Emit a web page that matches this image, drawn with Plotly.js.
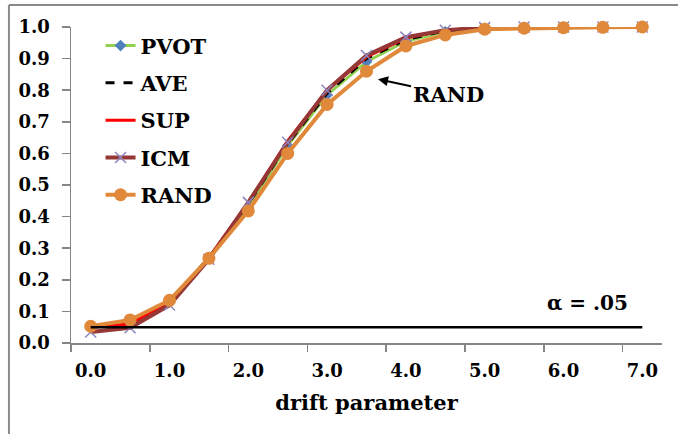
<!DOCTYPE html>
<html>
<head>
<meta charset="utf-8">
<script src="https://cdn.plot.ly/plotly-3.0.1.min.js"></script>
<style>html,body{margin:0;padding:0;background:#fff;}#chart{width:678px;height:434px;}</style>
</head>
<body>
<div id="chart"></div>
<script>
const drift = [0, 0.5, 1, 1.5, 2, 2.5, 3, 3.5, 4, 4.5, 5, 5.5, 6, 6.5, 7];
const PVOT = [0.05, 0.06, 0.13, 0.27, 0.43, 0.625, 0.785, 0.89, 0.955, 0.985, 0.996, 0.999, 1, 1, 1];
const AVE  = [0.05, 0.06, 0.13, 0.27, 0.44, 0.63, 0.79, 0.90, 0.96, 0.988, 0.997, 0.999, 1, 1, 1];
const SUP  = [0.05, 0.06, 0.13, 0.27, 0.445, 0.64, 0.80, 0.905, 0.965, 0.99, 0.998, 1, 1, 1, 1];
const ICM  = [0.035, 0.048, 0.12, 0.265, 0.445, 0.635, 0.80, 0.91, 0.968, 0.99, 0.998, 1, 1, 1, 1];
const RAND = [0.053, 0.073, 0.135, 0.268, 0.418, 0.60, 0.755, 0.86, 0.94, 0.975, 0.993, 0.996, 0.998, 0.999, 1];
const alphaX = [0, 7];
const alphaY = [0.05, 0.05];
const xTickVals = [0, 1, 2, 3, 4, 5, 6, 7];
const xTickText = ['0.0', '1.0', '2.0', '3.0', '4.0', '5.0', '6.0', '7.0'];
const xMinorTicks = [-0.25, 0.75, 1.75, 2.75, 3.75, 4.75, 5.75, 6.75];
const yTickVals = [0, 0.1, 0.2, 0.3, 0.4, 0.5, 0.6, 0.7, 0.8, 0.9, 1.0];

const FONT = 'DejaVu Serif';
const traces = [
  {x: drift, y: PVOT, name: 'PVOT', mode: 'lines+markers', legendgroup: 'a',
   line: {color: '#92D050', width: 3}, marker: {symbol: 'diamond', color: '#4F81BD', size: 9}, cliponaxis: false},
  {x: drift, y: AVE, name: 'AVE', mode: 'lines', legendgroup: 'b',
   line: {color: '#000000', width: 3, dash: 'dash'}, cliponaxis: false},
  {x: drift, y: SUP, name: 'SUP', mode: 'lines', legendgroup: 'c',
   line: {color: '#FF0000', width: 3}, cliponaxis: false},
  {x: drift, y: ICM, name: 'ICM', mode: 'lines+markers', legendgroup: 'd',
   line: {color: '#953735', width: 4}, marker: {symbol: 'x-thin', size: 11, line: {color: '#8E84C0', width: 1.5}}, cliponaxis: false},
  {x: drift, y: RAND, name: 'RAND', mode: 'lines+markers', legendgroup: 'e',
   line: {color: '#E0893A', width: 4}, marker: {symbol: 'circle', color: '#E0893A', size: 13}, cliponaxis: false},
  {x: alphaX, y: alphaY, mode: 'lines', showlegend: false, hoverinfo: 'skip',
   line: {color: '#000000', width: 2.5}}
];

const layout = {
  width: 678, height: 434,
  margin: {l: 71, r: 16, t: 27, b: 91},
  paper_bgcolor: '#ffffff', plot_bgcolor: '#ffffff',
  font: {family: FONT, color: '#000000'},
  showlegend: true,
  legend: {x: 0.05, y: 1.005, xanchor: 'left', yanchor: 'top', bgcolor: 'rgba(0,0,0,0)',
           font: {family: FONT, size: 21, weight: 'bold', color: '#000'}, tracegroupgap: 7},
  xaxis: {
    range: [-0.25, 7.25], tickmode: 'array', tickvals: xTickVals, ticktext: xTickText,
    ticks: '', showgrid: false, zeroline: false, showline: true, linecolor: '#868686', linewidth: 1.5,
    ticklabelstandoff: 11,
    tickfont: {family: FONT, size: 18, weight: 'bold', color: '#000'},
    minor: {tickmode: 'array', tickvals: xMinorTicks, ticks: 'outside', ticklen: 7, tickcolor: '#868686', tickwidth: 1.5, showgrid: false},
    title: {text: 'drift parameter', font: {family: FONT, size: 21, weight: 'bold', color: '#000'}, standoff: 15}
  },
  yaxis: {
    range: [0, 1], tickmode: 'array', tickvals: yTickVals, tickformat: '.1f',
    ticks: 'outside', ticklen: 8, tickcolor: '#868686', tickwidth: 1.5,
    showgrid: false, zeroline: false, showline: true, linecolor: '#868686', linewidth: 1.5,
    ticklabelstandoff: 8,
    tickfont: {family: FONT, size: 18, weight: 'bold', color: '#000'}
  },
  annotations: [
    {x: 3.646, y: 0.835, xref: 'x', yref: 'y', text: 'RAND', showarrow: true, arrowhead: 2, arrowsize: 1,
     arrowwidth: 2, arrowcolor: '#000', ax: 70, ay: 15, font: {family: FONT, size: 21, weight: 'bold', color: '#000'}},
    {x: 6.31, y: 0.127, xref: 'x', yref: 'y', text: 'α = .05', showarrow: false,
     font: {family: FONT, size: 20, weight: 'bold', color: '#000'}}
  ],
  shapes: [
    {type: 'line', xref: 'paper', yref: 'paper', x0: -0.105, x1: -0.105, y0: 1.07, y1: -0.3, line: {color: '#8a8a8a', width: 2}},
    {type: 'line', xref: 'paper', yref: 'paper', x0: -0.105, x1: 1.04, y0: 1.07, y1: 1.07, line: {color: '#8a8a8a', width: 2}}
  ]
};

Plotly.newPlot('chart', traces, layout, {displayModeBar: false, staticPlot: true});
</script>
</body>
</html>
